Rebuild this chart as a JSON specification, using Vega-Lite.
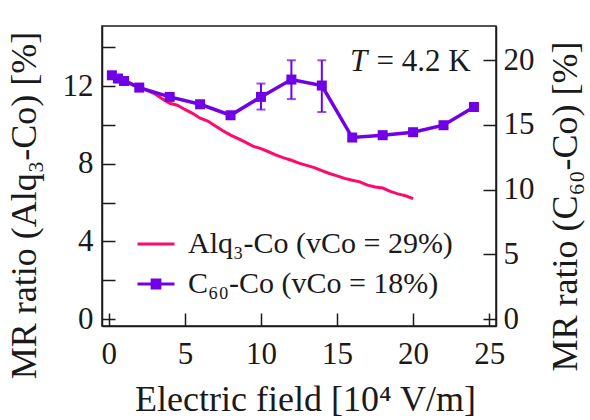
{
  "$schema": "https://vega.github.io/schema/vega-lite/v6.json",
  "width": 394,
  "height": 300,
  "autosize": {"type": "none"},
  "padding": {"left": 102, "top": 26, "right": 94, "bottom": 94},
  "background": "white",
  "config": {
    "view": {"stroke": "#1a1a1a", "strokeWidth": 1.5},
    "font": "Liberation Serif",
    "axis": {
      "grid": false,
      "domainColor": "#1a1a1a",
      "domainWidth": 1.5,
      "tickColor": "#1a1a1a",
      "tickWidth": 1.5,
      "tickSize": -13,
      "labelFont": "Liberation Serif",
      "labelFontSize": 31,
      "labelColor": "#1a1a1a",
      "labelFlush": false,
      "labelOverlap": false,
      "labelBound": false,
      "labelLimit": 0,
      "titleLimit": 0,
      "titleFont": "Liberation Serif",
      "titleFontSize": 36,
      "titleFontWeight": "normal",
      "titleColor": "#1a1a1a"
    }
  },
  "datasets": {
    "alq": [
      {"x": 0.1, "y": 12.6}, {"x": 0.5, "y": 12.48}, {"x": 1.0, "y": 12.32}, {"x": 1.5, "y": 12.12},
      {"x": 2.0, "y": 11.95}, {"x": 2.5, "y": 11.78}, {"x": 3.0, "y": 11.62}, {"x": 3.5, "y": 11.35},
      {"x": 4.0, "y": 11.12}, {"x": 4.5, "y": 11.02}, {"x": 5.0, "y": 10.8}, {"x": 5.5, "y": 10.6},
      {"x": 6.0, "y": 10.35}, {"x": 6.5, "y": 10.2}, {"x": 7.0, "y": 9.95}, {"x": 7.5, "y": 9.7},
      {"x": 8.0, "y": 9.48}, {"x": 8.5, "y": 9.3}, {"x": 9.0, "y": 9.1}, {"x": 9.5, "y": 8.9},
      {"x": 10.0, "y": 8.78}, {"x": 10.5, "y": 8.62}, {"x": 11.0, "y": 8.45}, {"x": 11.5, "y": 8.3},
      {"x": 12.0, "y": 8.18}, {"x": 12.5, "y": 8.03}, {"x": 13.0, "y": 7.92}, {"x": 13.5, "y": 7.8},
      {"x": 14.0, "y": 7.65}, {"x": 14.5, "y": 7.5}, {"x": 15.0, "y": 7.38}, {"x": 15.5, "y": 7.25},
      {"x": 16.0, "y": 7.15}, {"x": 16.5, "y": 7.07}, {"x": 17.0, "y": 6.9}, {"x": 17.5, "y": 6.8},
      {"x": 18.0, "y": 6.75}, {"x": 18.5, "y": 6.58}, {"x": 19.0, "y": 6.45}, {"x": 19.5, "y": 6.35},
      {"x": 20.0, "y": 6.2}
    ],
    "c60": [
      {"x": 0.2, "v": 18.84}, {"x": 0.6, "v": 18.59}, {"x": 1.0, "v": 18.4}, {"x": 2.0, "v": 17.89},
      {"x": 4.0, "v": 17.17}, {"x": 6.0, "v": 16.6}, {"x": 8.0, "v": 15.75}, {"x": 10.0, "v": 17.17},
      {"x": 12.0, "v": 18.51}, {"x": 14.0, "v": 18.05}, {"x": 16.0, "v": 14.03}, {"x": 18.0, "v": 14.21},
      {"x": 20.0, "v": 14.44}, {"x": 22.0, "v": 14.98}, {"x": 24.0, "v": 16.39}
    ],
    "err": [
      {"x": 10.0, "lo": 16.19, "hi": 18.2},
      {"x": 12.0, "lo": 17.0, "hi": 20.0},
      {"x": 14.0, "lo": 16.0, "hi": 20.0}
    ]
  },
  "encoding": {
    "x": {
      "field": "x",
      "type": "quantitative",
      "scale": {"domain": [-0.45, 25.45], "nice": false, "zero": false},
      "axis": {
        "orient": "bottom",
        "values": [0, 5, 10, 15, 20, 25],
        "labelPadding": 26,
        "title": "Electric field [10⁴ V/m]",
        "titleX": 203,
        "titleY": 84,
        "titleAlign": "center",
        "titleBaseline": "alphabetic"
      }
    }
  },
  "layer": [
    {
      "data": {"name": "alq"},
      "encoding": {
        "y": {
          "field": "y",
          "type": "quantitative",
          "scale": {"domain": [-0.36, 15.1], "nice": false, "zero": false},
          "axis": {
            "orient": "left",
            "values": [0, 2, 4, 6, 8, 10, 12, 14],
            "labelExpr": "datum.value % 4 === 0 ? datum.label : ''",
            "labelPadding": 22,
            "encode": {"ticks": {"update": {"x2": {"signal": "datum.value % 4 === 0 ? 13 : 6"}}}},
            "title": "MR ratio (Alq₃-Co) [%]",
            "titleAngle": -90,
            "titleX": -67,
            "titleY": 179,
            "titleAlign": "center",
            "titleBaseline": "alphabetic"
          }
        }
      },
      "layer": [
        {
          "mark": {"type": "line", "strokeWidth": 3},
          "encoding": {
            "color": {
              "datum": "Alq₃-Co (vCo = 29%)",
              "type": "nominal",
              "scale": {
                "domain": ["Alq₃-Co (vCo = 29%)", "C₆₀-Co (vCo = 18%)"],
                "range": ["#ff0a6c", "#7000e6"]
              },
              "legend": {
                "orient": "none",
                "legendX": 34,
                "legendY": 198,
                "padding": 0,
                "title": null,
                "labelFont": "Liberation Serif",
                "labelFontSize": 30,
                "labelColor": "#1a1a1a",
                "labelLimit": 0,
                "symbolSize": 1369,
                "symbolStrokeWidth": 3,
                "labelOffset": 12,
                "rowPadding": 5,
                "encode": {
                  "symbols": {
                    "update": {
                      "shape": {"signal": "indexof(datum.value, 'C') === 0 ? 'M-1,0H1M-0.21,-0.21H0.21V0.21H-0.21Z' : 'M-1,0H1'"},
                      "fill": {"signal": "indexof(datum.value, 'C') === 0 ? '#7000e6' : 'transparent'"},
                      "stroke": {"signal": "indexof(datum.value, 'C') === 0 ? '#7000e6' : '#ff0a6c'"}
                    }
                  }
                }
              }
            }
          }
        },
        {
          "data": {"values": [{"x": 15.86, "y": 12.77, "label": "T"}]},
          "mark": {"type": "text", "font": "Liberation Serif", "fontSize": 31, "fontStyle": "italic", "align": "left", "baseline": "alphabetic", "color": "#1a1a1a"},
          "encoding": {"text": {"field": "label"}}
        },
        {
          "data": {"values": [{"x": 17.6, "y": 12.77, "label": "= 4.2 K"}]},
          "mark": {"type": "text", "font": "Liberation Serif", "fontSize": 31, "align": "left", "baseline": "alphabetic", "color": "#1a1a1a"},
          "encoding": {"text": {"field": "label"}}
        }
      ]
    },
    {
      "layer": [
        {
          "data": {"name": "err"},
          "mark": {"type": "rule", "strokeWidth": 2, "color": "#7000e6"},
          "encoding": {
            "y": {"field": "lo", "type": "quantitative", "title": "MR ratio (C₆₀-Co) [%]", "scale": {"domain": [-0.54, 22.65], "nice": false, "zero": false}},
            "y2": {"field": "hi"}
          }
        },
        {
          "data": {"name": "err"},
          "mark": {"type": "tick", "orient": "horizontal", "size": 9, "thickness": 2, "color": "#7000e6"},
          "encoding": {
            "y": {"field": "lo", "type": "quantitative", "title": "MR ratio (C₆₀-Co) [%]", "scale": {"domain": [-0.54, 22.65], "nice": false, "zero": false}}
          }
        },
        {
          "data": {"name": "err"},
          "mark": {"type": "tick", "orient": "horizontal", "size": 9, "thickness": 2, "color": "#7000e6"},
          "encoding": {
            "y": {"field": "hi", "type": "quantitative", "title": "MR ratio (C₆₀-Co) [%]", "scale": {"domain": [-0.54, 22.65], "nice": false, "zero": false}}
          }
        },
        {
          "data": {"name": "c60"},
          "mark": {"type": "line", "strokeWidth": 3.5},
          "encoding": {
            "y": {
              "field": "v",
              "type": "quantitative",
              "title": "MR ratio (C₆₀-Co) [%]",
              "scale": {"domain": [-0.54, 22.65], "nice": false, "zero": false},
              "axis": {
                "orient": "right",
                "values": [0, 5, 10, 15, 20],
                "labelPadding": 20,
                "titleAngle": -90,
                "titleX": 80,
                "titleY": 180,
                "titleAlign": "center",
                "titleBaseline": "alphabetic"
              }
            },
            "color": {"datum": "C₆₀-Co (vCo = 18%)", "type": "nominal"}
          }
        },
        {
          "data": {"name": "c60"},
          "mark": {"type": "square", "size": 100, "filled": true, "opacity": 1, "color": "#7000e6"},
          "encoding": {
            "y": {"field": "v", "type": "quantitative", "title": "MR ratio (C₆₀-Co) [%]", "scale": {"domain": [-0.54, 22.65], "nice": false, "zero": false}}
          }
        }
      ]
    }
  ],
  "resolve": {"scale": {"y": "independent"}}
}
